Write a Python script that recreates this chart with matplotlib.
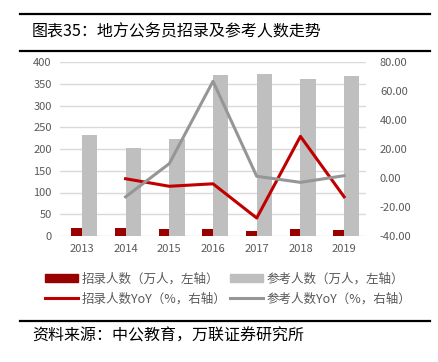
import numpy as np
import matplotlib
matplotlib.use("Agg")
import matplotlib.pyplot as plt
from matplotlib.patches import Patch
from matplotlib.lines import Line2D

plt.rcParams['font.family'] = ['Noto Sans CJK SC', 'DejaVu Sans']

years = ['2013', '2014', '2015', '2016', '2017', '2018', '2019']
hired = [18, 18, 17, 16, 11.5, 15, 13]            # 招录人数（万人）
applicants = [232, 203, 223, 369, 372, 362, 367]  # 参考人数（万人）
hired_yoy = [np.nan, -0.5, -5.7, -4.0, -27.6, 28.7, -13.0]
applicants_yoy = [np.nan, -13.0, 9.9, 66.7, 1.2, -3.0, 1.6]

red_bar = '#990000'
gray_bar = '#bfbfbf'
red_line = '#c00000'
gray_line = '#969696'
txt = '#595959'

W, H = 439, 362
fig = plt.figure(figsize=(W / 100, H / 100), dpi=100)

# header / footer rules and texts
for y in (14, 50.5, 320.5):
    fig.add_artist(Line2D([20 / W, 430 / W], [1 - y / H, 1 - y / H], color='black', lw=1.6))
fig.text(32 / W, 1 - 32 / H, '图表35：地方公务员招录及参考人数走势', fontsize=11.5,
         va='center', ha='left', color='black')
fig.text(32 / W, 1 - 336 / H, '资料来源：中公教育，万联证券研究所', fontsize=11.5,
         va='center', ha='left', color='black', style='italic')

ax = fig.add_axes([60 / W, 1 - 236 / H, 306 / W, 174 / H])
x = np.arange(len(years))
ax.bar(x - 0.12, hired, width=0.25, color=red_bar, zorder=2)
ax.bar(x + 0.175, applicants, width=0.35, color=gray_bar, zorder=2)
ax.set_ylim(0, 400)
ax.set_yticks(np.arange(0, 401, 50))
ax.set_xlim(-0.5, 6.5)
ax.set_xticks(x)
ax.set_xticklabels(years)
ax.grid(axis='y', color='#d9d9d9', lw=1, zorder=0)
ax.tick_params(length=0, colors=txt, labelsize=8, pad=6)
for s in ax.spines.values():
    s.set_visible(False)

ax2 = ax.twinx()
ax2.plot(x, hired_yoy, color=red_line, lw=2.2, zorder=3)
ax2.plot(x, applicants_yoy, color=gray_line, lw=2.2, zorder=3)
ax2.set_ylim(-40, 80)
ax2.set_yticks(np.arange(-40, 81, 20))
ax2.set_yticklabels(['%.2f' % v for v in np.arange(-40, 81, 20)])
ax2.tick_params(length=0, colors=txt, labelsize=8, pad=10)
for s in ax2.spines.values():
    s.set_visible(False)

handles = [Patch(color=red_bar), Line2D([], [], color=red_line, lw=2.2),
           Patch(color=gray_bar), Line2D([], [], color=gray_line, lw=2.2)]
labels = ['招录人数（万人，左轴）', '招录人数YoY（%，右轴）',
          '参考人数（万人，左轴）', '参考人数YoY（%，右轴）']
fig.legend(handles, labels, ncol=2, loc='center', bbox_to_anchor=(0.52, 1 - 289 / H),
           frameon=False, fontsize=9, handlelength=2.6, handleheight=0.6,
           handletextpad=0.3, columnspacing=0.3, labelspacing=0.55, labelcolor=txt)

fig.savefig('out.png', dpi=100)
